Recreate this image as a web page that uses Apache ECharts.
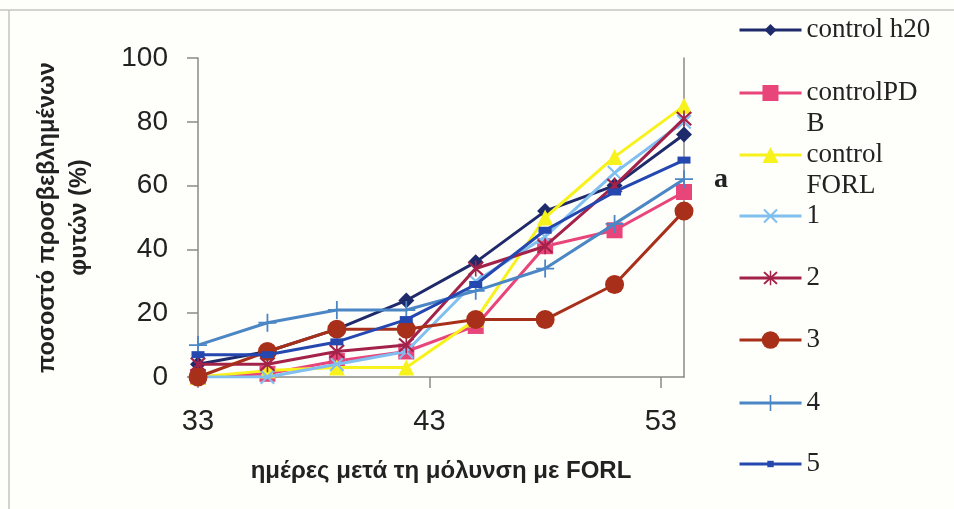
<!DOCTYPE html>
<html>
<head>
<meta charset="utf-8">
<script src="https://cdn.jsdelivr.net/npm/echarts@6/dist/echarts.min.js"></script>
<style>
html,body{margin:0;padding:0;background:#fefefb;}
#main{width:954px;height:509px;}
</style>
</head>
<body>
<div id="main"></div>
<script>
// ---- data ----
const days = [33, 36, 39, 42, 45, 48, 51, 54];
const seriesNames = ['control h20', 'controlPD B', 'control FORL', '1', '2', '3', '4', '5'];
const controlH20 = [4, 8, 15, 24, 36, 52, 60, 76];
const controlPDB = [0, 1, 5, 8, 16, 41, 46, 58];
const controlFORL = [0, 2, 3, 3, 18, 50, 69, 85];
const s1 = [0, 0, 4, 8, 30, 44, 64, 80];
const s2 = [4, 4, 8, 10, 34, 41, 60, 81];
const s3 = [0, 8, 15, 15, 18, 18, 29, 52];
const s4 = [10, 17, 21, 21, 27, 34, 48, 62];
const s5 = [7, 7, 11, 18, 29, 46, 58, 68];
const xTicks = [33, 43, 53];
const yTicks = [0, 20, 40, 60, 80, 100];
const legendLabels = ['control h20', '\ncontrolPD\nB', '\ncontrol\nFORL', '1', '2', '3', '4', '5'];
const xTitle = 'ημέρες μετά τη μόλυνση με FORL';
const yTitle = 'ποσοστό προσβεβλημένων\nφυτών (%)';
const panelLetter = 'a';

// ---- styles ----
const allValues = [controlH20, controlPDB, controlFORL, s1, s2, s3, s4, s5];
const colors = ['#1f2a6b', '#e8457a', '#f8f21c', '#80bff0', '#a3224a', '#a8301a', '#4b86c5', '#2447b0'];
const X_PATH = 'path://M2,0 L10,8 L18,0 L20,2 L12,10 L20,18 L18,20 L10,12 L2,20 L0,18 L8,10 L0,2 Z';
const STAR_PATH = 'path://M2,0 L10,8 L18,0 L20,2 L12,10 L20,18 L18,20 L10,12 L2,20 L0,18 L8,10 L0,2 Z M9,-1 L11,-1 L11,21 L9,21 Z';
const PLUS_PATH = 'path://M9,0 L11,0 L11,9 L20,9 L20,11 L11,11 L11,20 L9,20 L9,11 L0,11 L0,9 L9,9 Z';
const symbols = ['diamond', 'rect', 'triangle', X_PATH, STAR_PATH, 'circle', PLUS_PATH, 'rect'];
const symbolSizes = [16, 16, 16, 15, 16, 19, 18, [13, 7]];
const legendIconHeights = [15, 20, 20, 18, 18, 22, 20, 8];
const legendCenters = [30, 93, 155, 216, 278, 340, 403, 464];
const LEG_LH = 31;

const chart = echarts.init(document.getElementById('main'), null, {renderer: 'canvas'});

const series = seriesNames.map((name, i) => ({
  name: name,
  type: 'line',
  data: days.map((d, j) => [d, allValues[i][j]]),
  symbol: symbols[i],
  symbolSize: symbolSizes[i],
  showAllSymbol: true,
  lineStyle: {color: colors[i], width: 3},
  itemStyle: {color: colors[i]},
  z: 2 + i,
  animation: false
}));

const legends = seriesNames.map((name, i) => {
  const nLines = legendLabels[i].split('\n').length;
  return {
    data: [name],
    orient: 'vertical',
    left: 738,
    top: legendCenters[i] - nLines * LEG_LH / 2,
    padding: 0,
    itemWidth: 62,
    itemHeight: legendIconHeights[i],
    selectedMode: false,
    lineStyle: {width: 3},
    formatter: () => legendLabels[i],
    textStyle: {fontFamily: 'Liberation Serif', fontSize: 27, color: '#222', lineHeight: LEG_LH}
  };
});

const option = {
  backgroundColor: '#fefefb',
  animation: false,
  grid: {left: 198, right: 270, top: 58, bottom: 132, containLabel: false},
  legend: legends,
  xAxis: {
    type: 'value',
    min: days[0],
    max: days[days.length - 1],
    name: xTitle,
    nameLocation: 'middle',
    nameGap: 82,
    nameTextStyle: {fontFamily: 'Liberation Sans', fontWeight: 'bold', fontSize: 24, color: '#222'},
    axisLine: {show: true, lineStyle: {color: '#8a8a8a', width: 1.5}},
    axisTick: {show: true, length: 11, customValues: xTicks, lineStyle: {color: '#8a8a8a', width: 1.5}},
    axisLabel: {customValues: xTicks, margin: 30, fontFamily: 'Liberation Sans', fontSize: 29, color: '#222'},
    splitLine: {show: false}
  },
  yAxis: [{
    type: 'value',
    min: yTicks[0],
    max: yTicks[yTicks.length - 1],
    interval: yTicks[1] - yTicks[0],
    name: yTitle,
    nameLocation: 'middle',
    nameGap: 102,
    nameTextStyle: {fontFamily: 'Liberation Sans', fontWeight: 'bold', fontSize: 23.5, color: '#222', lineHeight: 32},
    axisLine: {show: true, lineStyle: {color: '#8a8a8a', width: 1.5}},
    axisTick: {show: true, length: 11, lineStyle: {color: '#8a8a8a', width: 1.5}},
    axisLabel: {margin: 30, fontFamily: 'Liberation Sans', fontSize: 28, color: '#222'},
    splitLine: {show: false}
  }, {
    type: 'value',
    position: 'right',
    min: yTicks[0],
    max: yTicks[yTicks.length - 1],
    axisLine: {show: true, lineStyle: {color: '#8a8a8a', width: 1.5}},
    axisTick: {show: false},
    axisLabel: {show: false},
    splitLine: {show: false}
  }],
  graphic: [
    {type: 'line', shape: {x1: 0, y1: 10, x2: 954, y2: 10}, style: {stroke: '#c4c4c4', lineWidth: 1.5}},
    {type: 'line', shape: {x1: 9, y1: 10, x2: 9, y2: 509}, style: {stroke: '#c4c4c4', lineWidth: 1.5}},
    {type: 'text', left: 714, top: 166, style: {text: panelLetter, font: 'bold 28px "Liberation Serif"', fill: '#222'}}
  ],
  series: series
};
chart.setOption(option);
</script>
</body>
</html>
